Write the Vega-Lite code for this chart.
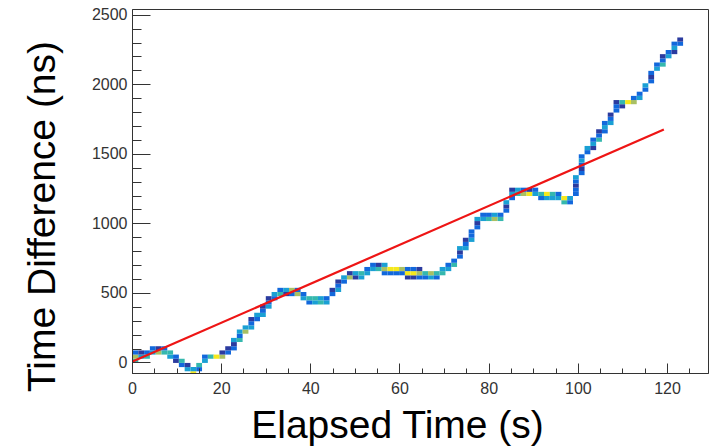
{
  "$schema": "https://vega.github.io/schema/vega-lite/v6.json",
  "width": 576,
  "height": 364,
  "autosize": {"type": "none"},
  "padding": {"left": 132, "top": 9, "right": 1, "bottom": 73},
  "background": "#ffffff",
  "config": {
    "view": {"stroke": "#333333", "strokeWidth": 1},
    "axis": {"grid": false, "labelFont": "Liberation Sans", "labelFontSize": 16, "labelColor": "#333333", "tickColor": "#333333", "domainColor": "#333333", "titleFont": "Liberation Sans", "titleFontWeight": "normal", "titleFontSize": 39, "titleColor": "#000000", "labelOverlap": false, "labelFlush": false}
  },
  "datasets": {
    "cells": [
      {"t":0,"v":0,"c":4},{"t":0,"v":30,"c":5},{"t":0,"v":60,"c":2},
      {"t":1.3,"v":30,"c":3},{"t":1.3,"v":60,"c":1},
      {"t":2.6,"v":30,"c":4},{"t":2.6,"v":60,"c":2},
      {"t":3.9,"v":60,"c":3},{"t":3.9,"v":90,"c":2},
      {"t":5.2,"v":60,"c":5},{"t":5.2,"v":90,"c":1},
      {"t":6.5,"v":60,"c":4},{"t":6.5,"v":90,"c":2},
      {"t":7.8,"v":30,"c":3},{"t":7.8,"v":60,"c":4},
      {"t":9.1,"v":0,"c":1},{"t":9.1,"v":30,"c":2},
      {"t":10.4,"v":-30,"c":2},{"t":10.4,"v":0,"c":4},
      {"t":11.7,"v":-60,"c":3},{"t":11.7,"v":-30,"c":1},
      {"t":13,"v":-90,"c":6},{"t":13,"v":-60,"c":3},
      {"t":14.3,"v":-60,"c":2},{"t":14.3,"v":-30,"c":4},
      {"t":15.6,"v":0,"c":3},{"t":15.6,"v":30,"c":2},
      {"t":16.9,"v":30,"c":4},
      {"t":18.2,"v":30,"c":6},
      {"t":19.5,"v":30,"c":5},{"t":19.5,"v":60,"c":1},
      {"t":20.8,"v":60,"c":2},{"t":20.8,"v":90,"c":1},
      {"t":22.1,"v":90,"c":2},{"t":22.1,"v":120,"c":1},{"t":22.1,"v":150,"c":3},
      {"t":23.4,"v":150,"c":4},{"t":23.4,"v":180,"c":2},{"t":23.4,"v":210,"c":3},
      {"t":24.7,"v":210,"c":5},{"t":24.7,"v":240,"c":3},
      {"t":26,"v":240,"c":3},{"t":26,"v":270,"c":2},{"t":26,"v":300,"c":1},
      {"t":27.3,"v":300,"c":2},{"t":27.3,"v":330,"c":3},
      {"t":28.6,"v":330,"c":3},{"t":28.6,"v":360,"c":2},{"t":28.6,"v":390,"c":1},
      {"t":29.9,"v":390,"c":3},{"t":29.9,"v":420,"c":2},{"t":29.9,"v":450,"c":1},
      {"t":31.2,"v":450,"c":2},{"t":31.2,"v":480,"c":3},
      {"t":32.5,"v":480,"c":4},{"t":32.5,"v":510,"c":2},
      {"t":33.8,"v":480,"c":1},{"t":33.8,"v":510,"c":3},
      {"t":35.1,"v":480,"c":2},{"t":35.1,"v":510,"c":5},
      {"t":36.4,"v":480,"c":5},{"t":36.4,"v":510,"c":2},
      {"t":37.7,"v":450,"c":3},{"t":37.7,"v":480,"c":2},
      {"t":39,"v":420,"c":2},{"t":39,"v":450,"c":4},
      {"t":40.3,"v":420,"c":3},{"t":40.3,"v":450,"c":4},
      {"t":41.6,"v":420,"c":4},{"t":41.6,"v":450,"c":3},
      {"t":42.9,"v":420,"c":3},{"t":42.9,"v":450,"c":2},
      {"t":44.2,"v":480,"c":2},{"t":44.2,"v":510,"c":1},
      {"t":45.5,"v":510,"c":3},{"t":45.5,"v":540,"c":2},{"t":45.5,"v":570,"c":1},
      {"t":46.8,"v":570,"c":2},{"t":46.8,"v":600,"c":3},
      {"t":48.1,"v":600,"c":5},{"t":48.1,"v":630,"c":1},
      {"t":49.4,"v":600,"c":1},{"t":49.4,"v":630,"c":3},
      {"t":50.7,"v":600,"c":3},{"t":50.7,"v":630,"c":4},
      {"t":52,"v":630,"c":3},{"t":52,"v":660,"c":2},
      {"t":53.3,"v":660,"c":3},{"t":53.3,"v":690,"c":2},
      {"t":54.6,"v":660,"c":4},{"t":54.6,"v":690,"c":1},
      {"t":55.9,"v":630,"c":2},{"t":55.9,"v":660,"c":5},{"t":55.9,"v":690,"c":3},
      {"t":57.2,"v":630,"c":2},{"t":57.2,"v":660,"c":6},
      {"t":58.5,"v":630,"c":2},{"t":58.5,"v":660,"c":6},
      {"t":59.8,"v":630,"c":2},{"t":59.8,"v":660,"c":5},
      {"t":61.1,"v":600,"c":1},{"t":61.1,"v":630,"c":6},{"t":61.1,"v":660,"c":2},
      {"t":62.4,"v":600,"c":1},{"t":62.4,"v":630,"c":6},{"t":62.4,"v":660,"c":2},
      {"t":63.7,"v":600,"c":2},{"t":63.7,"v":630,"c":5},{"t":63.7,"v":660,"c":1},
      {"t":65,"v":600,"c":2},{"t":65,"v":630,"c":4},
      {"t":66.3,"v":600,"c":3},{"t":66.3,"v":630,"c":5},
      {"t":67.6,"v":600,"c":2},{"t":67.6,"v":630,"c":4},
      {"t":68.9,"v":630,"c":4},{"t":68.9,"v":660,"c":3},
      {"t":70.2,"v":660,"c":3},{"t":70.2,"v":690,"c":2},
      {"t":71.5,"v":690,"c":4},{"t":71.5,"v":720,"c":2},
      {"t":72.8,"v":750,"c":2},{"t":72.8,"v":780,"c":1},{"t":72.8,"v":810,"c":3},
      {"t":74.1,"v":810,"c":3},{"t":74.1,"v":840,"c":2},{"t":74.1,"v":870,"c":1},
      {"t":75.4,"v":870,"c":3},{"t":75.4,"v":900,"c":2},{"t":75.4,"v":930,"c":2},
      {"t":76.7,"v":960,"c":2},{"t":76.7,"v":990,"c":1},{"t":76.7,"v":1020,"c":3},
      {"t":78,"v":1020,"c":3},{"t":78,"v":1050,"c":2},
      {"t":79.3,"v":1020,"c":4},{"t":79.3,"v":1050,"c":2},
      {"t":80.6,"v":1020,"c":5},{"t":80.6,"v":1050,"c":3},
      {"t":81.9,"v":1020,"c":4},{"t":81.9,"v":1050,"c":2},
      {"t":83.2,"v":1080,"c":2},{"t":83.2,"v":1110,"c":1},{"t":83.2,"v":1140,"c":3},
      {"t":84.5,"v":1170,"c":2},{"t":84.5,"v":1200,"c":3},{"t":84.5,"v":1230,"c":1},
      {"t":85.8,"v":1200,"c":4},{"t":85.8,"v":1230,"c":3},
      {"t":87.1,"v":1200,"c":5},{"t":87.1,"v":1230,"c":2},
      {"t":88.4,"v":1200,"c":6},{"t":88.4,"v":1230,"c":1},
      {"t":89.7,"v":1200,"c":3},{"t":89.7,"v":1230,"c":2},
      {"t":91,"v":1170,"c":2},{"t":91,"v":1200,"c":4},
      {"t":92.3,"v":1170,"c":3},{"t":92.3,"v":1200,"c":6},
      {"t":93.6,"v":1170,"c":3},{"t":93.6,"v":1200,"c":4},
      {"t":94.9,"v":1170,"c":3},{"t":94.9,"v":1200,"c":2},
      {"t":96.2,"v":1140,"c":4},{"t":96.2,"v":1170,"c":6},
      {"t":97.5,"v":1140,"c":2},{"t":97.5,"v":1170,"c":3},
      {"t":98.8,"v":1200,"c":2},{"t":98.8,"v":1230,"c":2},{"t":98.8,"v":1260,"c":1},{"t":98.8,"v":1290,"c":2},{"t":98.8,"v":1320,"c":3},
      {"t":100.1,"v":1350,"c":2},{"t":100.1,"v":1380,"c":1},{"t":100.1,"v":1410,"c":2},{"t":100.1,"v":1440,"c":3},{"t":100.1,"v":1470,"c":2},
      {"t":101.4,"v":1500,"c":2},{"t":101.4,"v":1530,"c":3},
      {"t":102.7,"v":1530,"c":1},{"t":102.7,"v":1560,"c":3},{"t":102.7,"v":1590,"c":2},
      {"t":104,"v":1590,"c":4},{"t":104,"v":1620,"c":2},{"t":104,"v":1650,"c":1},
      {"t":105.3,"v":1650,"c":2},{"t":105.3,"v":1680,"c":3},{"t":105.3,"v":1710,"c":2},
      {"t":106.6,"v":1710,"c":3},{"t":106.6,"v":1740,"c":2},{"t":106.6,"v":1770,"c":1},
      {"t":107.9,"v":1800,"c":2},{"t":107.9,"v":1830,"c":2},{"t":107.9,"v":1860,"c":1},
      {"t":109.2,"v":1830,"c":1},{"t":109.2,"v":1860,"c":4},
      {"t":110.5,"v":1860,"c":6},
      {"t":111.8,"v":1860,"c":5},{"t":111.8,"v":1890,"c":2},
      {"t":113.1,"v":1890,"c":3},{"t":113.1,"v":1920,"c":2},
      {"t":114.4,"v":1950,"c":2},{"t":114.4,"v":1980,"c":3},
      {"t":115.7,"v":2010,"c":2},{"t":115.7,"v":2040,"c":1},{"t":115.7,"v":2070,"c":2},
      {"t":117,"v":2100,"c":3},{"t":117,"v":2130,"c":2},
      {"t":118.3,"v":2130,"c":4},{"t":118.3,"v":2160,"c":2},{"t":118.3,"v":2190,"c":1},
      {"t":119.6,"v":2190,"c":3},{"t":119.6,"v":2220,"c":2},
      {"t":120.9,"v":2220,"c":1},{"t":120.9,"v":2250,"c":3},{"t":120.9,"v":2280,"c":2},
      {"t":122.2,"v":2280,"c":2},{"t":122.2,"v":2310,"c":1}
    ],
    "fit": [
      {"t": 0, "v": 5},
      {"t": 119.3, "v": 1675}
    ]
  },
  "layer": [
    {
      "data": {"name": "cells"},
      "mark": {"type": "rect", "clip": true, "binSpacing": 0},
      "encoding": {
        "x": {"field": "t", "type": "quantitative", "bin": {"binned": true, "step": 1.3},
          "scale": {"domain": [0, 129.2], "nice": false, "zero": false},
          "axis": {"title": "Elapsed Time (s)", "values": [0,5,10,15,20,25,30,35,40,45,50,55,60,65,70,75,80,85,90,95,100,105,110,115,120,125],
            "labelExpr": "datum.value % 20 === 0 ? datum.label : ''", "format": "d",
            "tickSize": {"condition": {"test": "datum.value % 20 === 0", "value": -10}, "value": -5},
            "labelPadding": 17,
            "titleX": 265, "titleY": 64, "titleAlign": "center", "titleBaseline": "alphabetic"}},
        "y": {"field": "v", "type": "quantitative", "bin": {"binned": true, "step": 30},
          "scale": {"domain": [-76, 2541], "nice": false, "zero": false},
          "axis": {"title": "Time Difference (ns)", "values": [0,100,200,300,400,500,600,700,800,900,1000,1100,1200,1300,1400,1500,1600,1700,1800,1900,2000,2100,2200,2300,2400,2500],
            "labelExpr": "datum.value % 500 === 0 ? datum.label : ''", "format": "d",
            "tickSize": {"condition": {"test": "datum.value % 500 === 0", "value": -18}, "value": -9},
            "labelPadding": 23,
            "titleX": -78, "titleY": 207, "titleAlign": "center", "titleAngle": -90, "titleBaseline": "alphabetic"}},
        "color": {"field": "c", "type": "ordinal", "legend": null,
          "scale": {"domain": [1,2,3,4,5,6], "range": ["#2b3b9f", "#1268dc", "#1aa0d4", "#35b8ae", "#a9c063", "#f5e81d"]}}
      }
    },
    {
      "data": {"name": "fit"},
      "mark": {"type": "line", "color": "#ee1515", "strokeWidth": 2.2, "clip": true},
      "encoding": {
        "x": {"field": "t", "type": "quantitative"},
        "y": {"field": "v", "type": "quantitative"}
      }
    }
  ]
}
